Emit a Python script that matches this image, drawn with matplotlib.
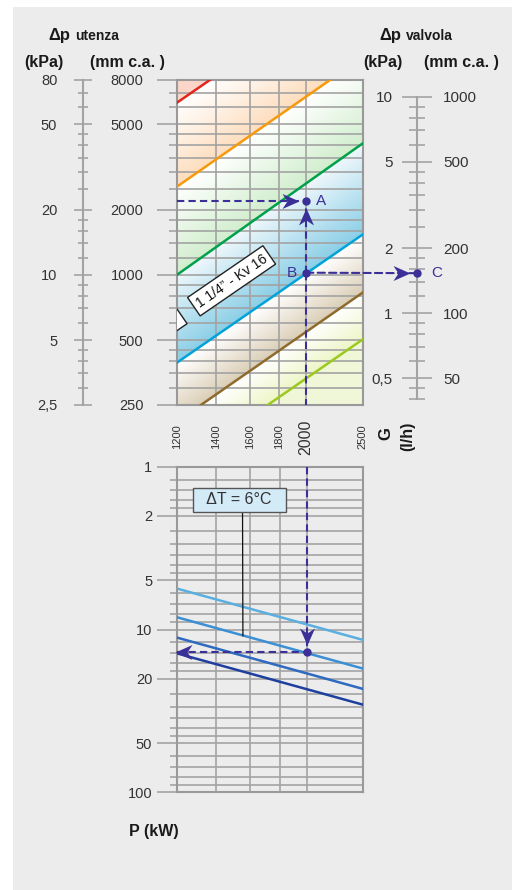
import matplotlib
matplotlib.use("Agg")
import matplotlib.pyplot as plt
import numpy as np
from matplotlib.colors import to_rgb
from matplotlib.patches import Rectangle, ConnectionPatch
from matplotlib.path import Path
from matplotlib.ticker import NullFormatter, NullLocator

plt.rcParams['font.family'] = ['Liberation Sans', 'DejaVu Sans']

W, H, DPI = 512, 890, 100

# ---- data ----
G_RANGE = [1200, 2500]
G_TICKS = [1200, 1400, 1600, 1800, 2000, 2500]
G_LABELS = ['1200', '1400', '1600', '1800', '2000', '2500']

DP_MAJOR = [250, 500, 1000, 2000, 5000, 8000]
DP_MM = ['250', '500', '1000', '2000', '5000', '8000']
DP_KPA = ['2,5', '5', '10', '20', '50', '80']
DP_MINOR = [300, 350, 400, 450, 600, 700, 800, 900, 1200, 1400, 1600, 1800,
            2500, 3000, 3500, 4000, 4500, 6000, 7000]

VALVE_MAJOR = [50, 100, 200, 500, 1000]
VALVE_MM = ['50', '100', '200', '500', '1000']
VALVE_KPA = ['0,5', '1', '2', '5', '10']
VALVE_MINOR = [40, 45, 60, 70, 80, 90, 120, 140, 160, 180, 250, 300, 350,
               400, 450, 600, 700, 800, 900]

P_MAJOR = [1, 2, 5, 10, 20, 50, 100]
P_LABELS = ['1', '2', '5', '10', '20', '50', '100']
P_MINOR = [1.2, 1.4, 1.6, 1.8, 2.5, 3, 3.5, 4, 4.5, 6, 7, 8, 9, 12, 14, 16,
           18, 25, 30, 35, 40, 45, 60, 70, 80, 90]

# Δp utenza (mm c.a.) of each line at G = 1200 and 2500 l/h
kv_red = [6270, 24600]
kv_orange = [2560, 10200]
kv_green = [1000, 4070]
kv_cyan = [392, 1540]
kv_brown = [209, 829]
kv_lime = [128, 503]

# P (kW) of each ΔT line at G = 1200 and 2500 l/h
dt_a = [5.6, 11.6]
dt_b = [8.4, 17.4]
dt_c = [11.2, 23.2]
dt_d = [14.0, 29.0]

point_A = (2000, 2200)
point_B = (2000, 1025)
point_C = 153          # Δp valvola, mm c.a.
point_D = (2000, 13.8)
label_kv = (1490, 940)
label_hidden = (1203, 640)
label_dt = (1536, 1.6)
pointer_dt = (1557, 10.95)

# ---- styles ----
PANEL = '#ebeceb'
GRID = '#a3a3a3'
SPINE = '#999999'
TXT = '#333333'
NAVY = '#3b2f98'


def rect(x0, y0, x1, y1):
    return [x0 / W, 1 - y1 / H, (x1 - x0) / W, (y1 - y0) / H]


def ftxt(x, y, s, **kw):
    fig.text(x / W, 1 - y / H, s, **kw)


def head(direction, gap=7, length=17, half=7.5, notch=5):
    v = np.array([[-gap, 0], [-gap - length, half], [-gap - length + notch, 0],
                  [-gap - length, -half], [-gap, 0]], float)
    a = np.radians({'right': 0, 'up': 90, 'left': 180, 'down': 270}[direction])
    rot = np.array([[np.cos(a), -np.sin(a)], [np.sin(a), np.cos(a)]])
    v = v @ rot.T
    codes = [Path.MOVETO, Path.LINETO, Path.LINETO, Path.LINETO, Path.CLOSEPOLY]
    return dict(marker=Path(v, codes), markersize=2 * (gap + length) * 72 / DPI,
                mew=0, color=NAVY, linestyle='none', zorder=8, clip_on=False)


def gradient_band(axis, lower, upper, c_low, c_high, n=40):
    lo, hi = np.log10(lower), np.log10(upper)
    c0, c1 = np.array(to_rgb(c_low)), np.array(to_rgb(c_high))
    for k in range(n):
        t0, t1 = k / n, (k + 1) / n
        c = c0 + (c1 - c0) * (t0 + t1) / 2
        axis.fill_between(G_RANGE, 10 ** (lo + t0 * (hi - lo)), 10 ** (lo + t1 * (hi - lo)),
                          color=c, lw=0.6, zorder=0.5)


fig = plt.figure(figsize=(W / DPI, H / DPI), dpi=DPI)
fig.add_artist(Rectangle((13 / W, 0), 1 - 13 / W, 1 - 7 / H, transform=fig.transFigure,
                         facecolor=PANEL, edgecolor='none', zorder=-10))

DASH = dict(color=NAVY, lw=1.5, dashes=(3.5, 2), zorder=6)

# ---------------- top chart ----------------
ax = fig.add_axes(rect(176.7, 80, 362.7, 405))
ax.set_xscale('log')
ax.set_yscale('log')
ax.set_xlim(G_RANGE)
ax.set_ylim(250, 8000)

ax.fill_between(G_RANGE, kv_red, [1e5, 1e5], color='#fbd6c8', lw=0.6, zorder=0.5)
gradient_band(ax, kv_orange, kv_red, '#fddcbc', '#ffffff')
gradient_band(ax, kv_green, kv_orange, '#cfedcb', '#ffffff')
gradient_band(ax, kv_cyan, kv_green, '#88cde6', '#eef7fb')
gradient_band(ax, kv_brown, kv_cyan, '#d9ccb3', '#ffffff')
gradient_band(ax, kv_lime, kv_brown, '#ecf5c4', '#ffffff')
ax.fill_between(G_RANGE, [10, 10], kv_lime, color='#f0f6d8', lw=0.6, zorder=0.5)

for vals, col in [(kv_red, '#e2261c'), (kv_orange, '#f49a0c'), (kv_green, '#00a14b'),
                  (kv_cyan, '#00a3d9'), (kv_brown, '#8e6b2c'), (kv_lime, '#9cc91e')]:
    ax.plot(G_RANGE, vals, color=col, lw=1.8, zorder=3)

ax.set_xticks(G_TICKS, G_LABELS)
ax.xaxis.set_minor_locator(NullLocator())
ax.set_yticks(DP_MAJOR, DP_MM)
ax.set_yticks(DP_MINOR, minor=True)
ax.yaxis.set_minor_formatter(NullFormatter())
ax.grid(True, which='both', axis='y', color=GRID, lw=1.2)
ax.grid(True, which='major', axis='x', color=GRID, lw=1.2)
ax.tick_params(axis='y', which='major', length=14.4, width=1.2, color=GRID, pad=9.6,
               labelsize=10.5, labelcolor=TXT)
ax.tick_params(axis='y', which='minor', length=6, width=1.2, color=GRID)
ax.tick_params(axis='x', which='major', length=0, pad=23, labelsize=8, labelcolor=TXT,
               labelrotation=90)
for lbl in ax.get_xticklabels():
    lbl.set_va('center')
    if lbl.get_text() == '2000':
        lbl.set_fontsize(11.5)
for s in ax.spines.values():
    s.set_color(SPINE)
    s.set_linewidth(1.5)

box = dict(boxstyle='square,pad=0.3', fc='white', ec='#222222', lw=1)
ax.text(*label_kv, '1 1/4” - Kv 16', rotation=34.5, rotation_mode='anchor', ha='center',
        va='center', fontsize=10, color='#111111', bbox=box, zorder=5)
ax.text(*label_hidden, '1” - Kv 10', rotation=34.5, rotation_mode='anchor', ha='right',
        va='center', fontsize=10, color='#111111', bbox=box, zorder=5, clip_on=True)

ax.plot([G_RANGE[0], point_A[0]], [point_A[1]] * 2, **DASH)
ax.plot([point_B[0]] * 2, [point_B[1], point_A[1]], **DASH)
ax.plot([point_B[0]] * 2, [point_B[1], 250], **DASH)
ax.plot(*point_A, 'o', ms=5, color=NAVY, zorder=7)
ax.plot(*point_B, 'o', ms=5, color=NAVY, zorder=7)
ax.plot(*point_A, **head('right'))
ax.plot(*point_A, **head('up'))
ax.annotate('A', point_A, xytext=(7, 0), textcoords='offset points', ha='left', va='center',
            fontsize=11, color=NAVY)
ax.annotate('B', point_B, xytext=(-7, 0), textcoords='offset points', ha='right', va='center',
            fontsize=11, color=NAVY)

# ---------------- Δp utenza kPa scale ----------------
ax_k = fig.add_axes(rect(83, 80, 83.2, 405))
ax_k.set_facecolor('none')
ax_k.set_yscale('log')
ax_k.set_ylim(250, 8000)
ax_k.set_xticks([])
ax_k.set_yticks(DP_MAJOR, DP_KPA)
ax_k.set_yticks(DP_MINOR, minor=True)
ax_k.yaxis.set_minor_formatter(NullFormatter())
ax_k.tick_params(axis='y', which='major', direction='inout', length=13, width=1.2,
                 color=GRID, pad=12, labelsize=10.5, labelcolor=TXT)
ax_k.tick_params(axis='y', which='minor', direction='inout', length=7.2, width=1.2, color=GRID)
for name, s in ax_k.spines.items():
    s.set_visible(name == 'left')
    s.set_color(GRID)
    s.set_linewidth(1.5)

# ---------------- Δp valvola scale ----------------
ax_v = fig.add_axes(rect(416.7, 96.7, 416.9, 399.3))
ax_v.set_facecolor('none')
ax_v.set_xlim(0, 1)
ax_v.set_yscale('log')
ax_v.set_ylim(40, 1000)
ax_v.set_xticks([])
ax_v.set_yticks(VALVE_MAJOR, VALVE_KPA)
ax_v.set_yticks(VALVE_MINOR, minor=True)
ax_v.yaxis.set_minor_formatter(NullFormatter())
ax_v.tick_params(axis='y', which='major', direction='inout', length=21, width=1.2,
                 color=GRID, pad=6.8, labelsize=11, labelcolor=TXT)
ax_v.tick_params(axis='y', which='minor', direction='inout', length=12, width=1.2, color=GRID)
for name, s in ax_v.spines.items():
    s.set_visible(name == 'left')
    s.set_color(GRID)
    s.set_linewidth(1.5)

ax_v2 = ax_v.twinx()
ax_v2.set_yscale('log')
ax_v2.set_ylim(40, 1000)
ax_v2.set_yticks(VALVE_MAJOR, VALVE_MM)
ax_v2.yaxis.set_minor_locator(NullLocator())
ax_v2.tick_params(axis='y', which='both', length=0, pad=18.7, labelsize=11, labelcolor=TXT)
for s in ax_v2.spines.values():
    s.set_visible(False)

ax_v.plot(0, point_C, 'o', ms=5, color=NAVY, zorder=7, clip_on=False)
ax_v.plot(0, point_C, **head('right'))
ax_v.annotate('C', (0, point_C), xytext=(10.8, 0), textcoords='offset points', ha='left',
              va='center', fontsize=11, color=NAVY, annotation_clip=False)
fig.add_artist(ConnectionPatch(xyA=point_B, coordsA=ax.transData, xyB=(0, point_C),
                               coordsB=ax_v.transData, color=NAVY, lw=1.5,
                               linestyle=(0, (3.5, 2)), zorder=6))

# ---------------- bottom chart ----------------
ax_p = fig.add_axes(rect(176.7, 466.7, 363.3, 792.3))
ax_p.set_facecolor('none')
ax_p.set_xscale('log')
ax_p.set_yscale('log')
ax_p.set_xlim(G_RANGE)
ax_p.set_ylim(100, 1)
ax_p.set_xticks(G_TICKS, [''] * len(G_TICKS))
ax_p.xaxis.set_minor_locator(NullLocator())
ax_p.set_yticks(P_MAJOR, P_LABELS)
ax_p.set_yticks(P_MINOR, minor=True)
ax_p.yaxis.set_minor_formatter(NullFormatter())
ax_p.grid(True, which='both', axis='y', color=GRID, lw=1.2)
ax_p.grid(True, which='major', axis='x', color=GRID, lw=1.2)
ax_p.tick_params(axis='x', length=0)
ax_p.tick_params(axis='y', which='major', length=14.4, width=1.2, color=GRID, pad=3.2,
                 labelsize=10.5, labelcolor=TXT)
ax_p.tick_params(axis='y', which='minor', length=5.4, width=1.2, color=GRID)
for s in ax_p.spines.values():
    s.set_color(SPINE)
    s.set_linewidth(1.5)

for vals, col in [(dt_a, '#5aafe0'), (dt_b, '#3b8fd4'), (dt_c, '#2e6ac0'), (dt_d, '#1f3f9e')]:
    ax_p.plot(G_RANGE, vals, color=col, lw=1.8, zorder=3)

ax_p.plot([point_D[0]] * 2, [1, point_D[1]], **DASH)
ax_p.plot([G_RANGE[0], point_D[0]], [point_D[1]] * 2, **DASH)
ax_p.plot(*point_D, 'o', ms=5, color=NAVY, zorder=7)
ax_p.plot(*point_D, **head('down'))
ax_p.plot(G_RANGE[0], point_D[1], **head('left', gap=-2))

ax_p.annotate('  ΔT = 6°C  ', xy=pointer_dt, xytext=label_dt, ha='center', va='center',
              fontsize=11.5, color=TXT, zorder=5,
              bbox=dict(boxstyle='square,pad=0.3', fc='#d3eaf7', ec='#555555', lw=1),
              arrowprops=dict(arrowstyle='-', color='#111111', lw=0.9, shrinkA=0, shrinkB=0,
                              relpos=(0.537, 0)))

# ---------------- headings ----------------
HEAD = dict(fontweight='bold', color='#1a1a1a')
ftxt(48.3, 40, 'Δp', fontsize=12, ha='left', va='baseline', **HEAD)
ftxt(75, 40, 'utenza', fontsize=10, ha='left', va='baseline', **HEAD)
ftxt(44, 62, '(kPa)', fontsize=11.5, ha='center', va='center', **HEAD)
ftxt(127.5, 62, '(mm c.a. )', fontsize=11.5, ha='center', va='center', **HEAD)
ftxt(379, 40, 'Δp', fontsize=12, ha='left', va='baseline', **HEAD)
ftxt(406, 40, 'valvola', fontsize=10, ha='left', va='baseline', **HEAD)
ftxt(383.3, 62.5, '(kPa)', fontsize=11.5, ha='center', va='center', **HEAD)
ftxt(461, 62.5, '(mm c.a. )', fontsize=11.5, ha='center', va='center', **HEAD)
ftxt(385.8, 434, 'G', fontsize=12, rotation=90, ha='center', va='center', **HEAD)
ftxt(407.5, 436, '(l/h)', fontsize=11.5, rotation=90, ha='center', va='center', **HEAD)
ftxt(153.8, 831.7, 'P (kW)', fontsize=11.5, ha='center', va='center', **HEAD)

fig.savefig('out.png', dpi=DPI)
